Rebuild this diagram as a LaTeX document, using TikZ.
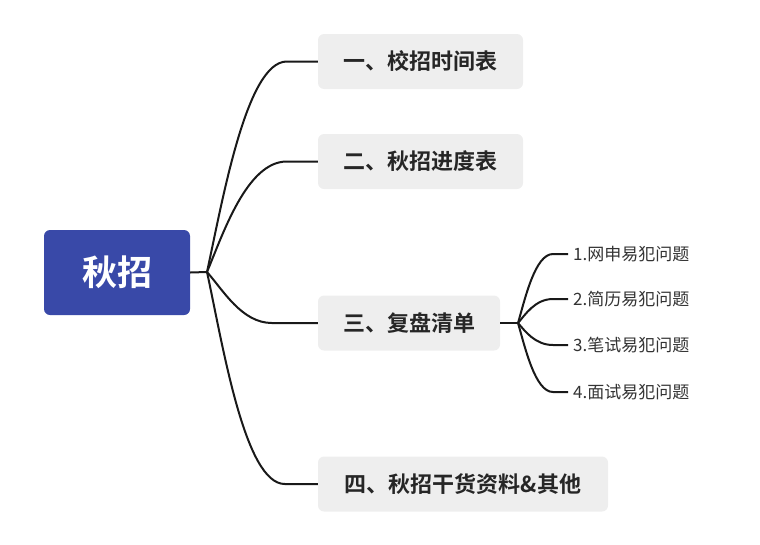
\documentclass[tikz,border=0pt]{standalone}
\usepackage{fontspec}
\setmainfont{Noto Sans CJK SC}[BoldFont={Noto Sans CJK SC Bold}]
\definecolor{rootblue}{HTML}{3949A8}
\definecolor{boxgray}{HTML}{EEEEEE}
\tikzset{
  rootbox/.style={fill=rootblue, rounded corners=6pt, text=white,
    font=\fontsize{35}{40}\selectfont\bfseries,
    minimum width=146pt, minimum height=85pt},
  topicbox/.style={fill=boxgray, rounded corners=6pt, text=black!85,
    font=\fontsize{22}{26}\selectfont\bfseries,
    minimum height=55pt, inner sep=0pt},
  leaf/.style={anchor=west, text=black!80, inner sep=5pt,
    font=\fontsize{17}{20}\selectfont},
  branch/.style={line width=2pt, black!90}
}
\begin{document}
\begin{tikzpicture}[x=1pt,y=-1pt]
        \useasboundingbox (0,0) rectangle (760,544);
        \node[rootbox] (root) at (117,272.5) {秋招};
        \node[topicbox, minimum width=205pt] (t1) at (420.5,61.5) {一、校招时间表};
        \node[topicbox, minimum width=205pt] (t2) at (420.5,161.5) {二、秋招进度表};
        \node[topicbox, minimum width=182pt] (t3) at (409,323) {三、复盘清单};
        \node[topicbox, minimum width=290pt] (t4) at (463,484) {四、秋招干货资料\&其他};
        \coordinate (fork) at (207,272);
        \coordinate (subfork) at (518,323);

        % main branches
        \draw[branch] (root.east) -- (fork);
        \draw[branch] (fork) .. controls +(16,-74) and +(-40,0) .. ([xshift=-31pt]t1.west) -- (t1.west);
        \draw[branch] (fork) .. controls +(16,-38) and +(-40,0) .. ([xshift=-31pt]t2.west) -- (t2.west);
        \draw[branch] (fork) .. controls +(16,18) and +(-30,0) .. ([xshift=-46pt]t3.west) -- (t3.west);
        \draw[branch] (fork) .. controls +(16,74) and +(-40,0) .. ([xshift=-33pt]t4.west) -- (t4.west);

        % sub branches of t3
        \node[leaf] (l1) at (568,254) {1.网申易犯问题};
        \node[leaf] (l2) at (568,299) {2.简历易犯问题};
        \node[leaf] (l3) at (568,345) {3.笔试易犯问题};
        \node[leaf] (l4) at (568,392) {4.面试易犯问题};
        \draw[branch] (t3.east) -- (subfork);
        \draw[branch] (subfork) .. controls +(7,-24) and +(-18,0) .. ([xshift=-15pt]l1.west) -- (l1.west);
        \draw[branch] (subfork) .. controls +(7,-8) and +(-18,0) .. ([xshift=-15pt]l2.west) -- (l2.west);
        \draw[branch] (subfork) .. controls +(7,8) and +(-18,0) .. ([xshift=-15pt]l3.west) -- (l3.west);
        \draw[branch] (subfork) .. controls +(7,24) and +(-18,0) .. ([xshift=-15pt]l4.west) -- (l4.west);
    \end{tikzpicture}
\end{document}
